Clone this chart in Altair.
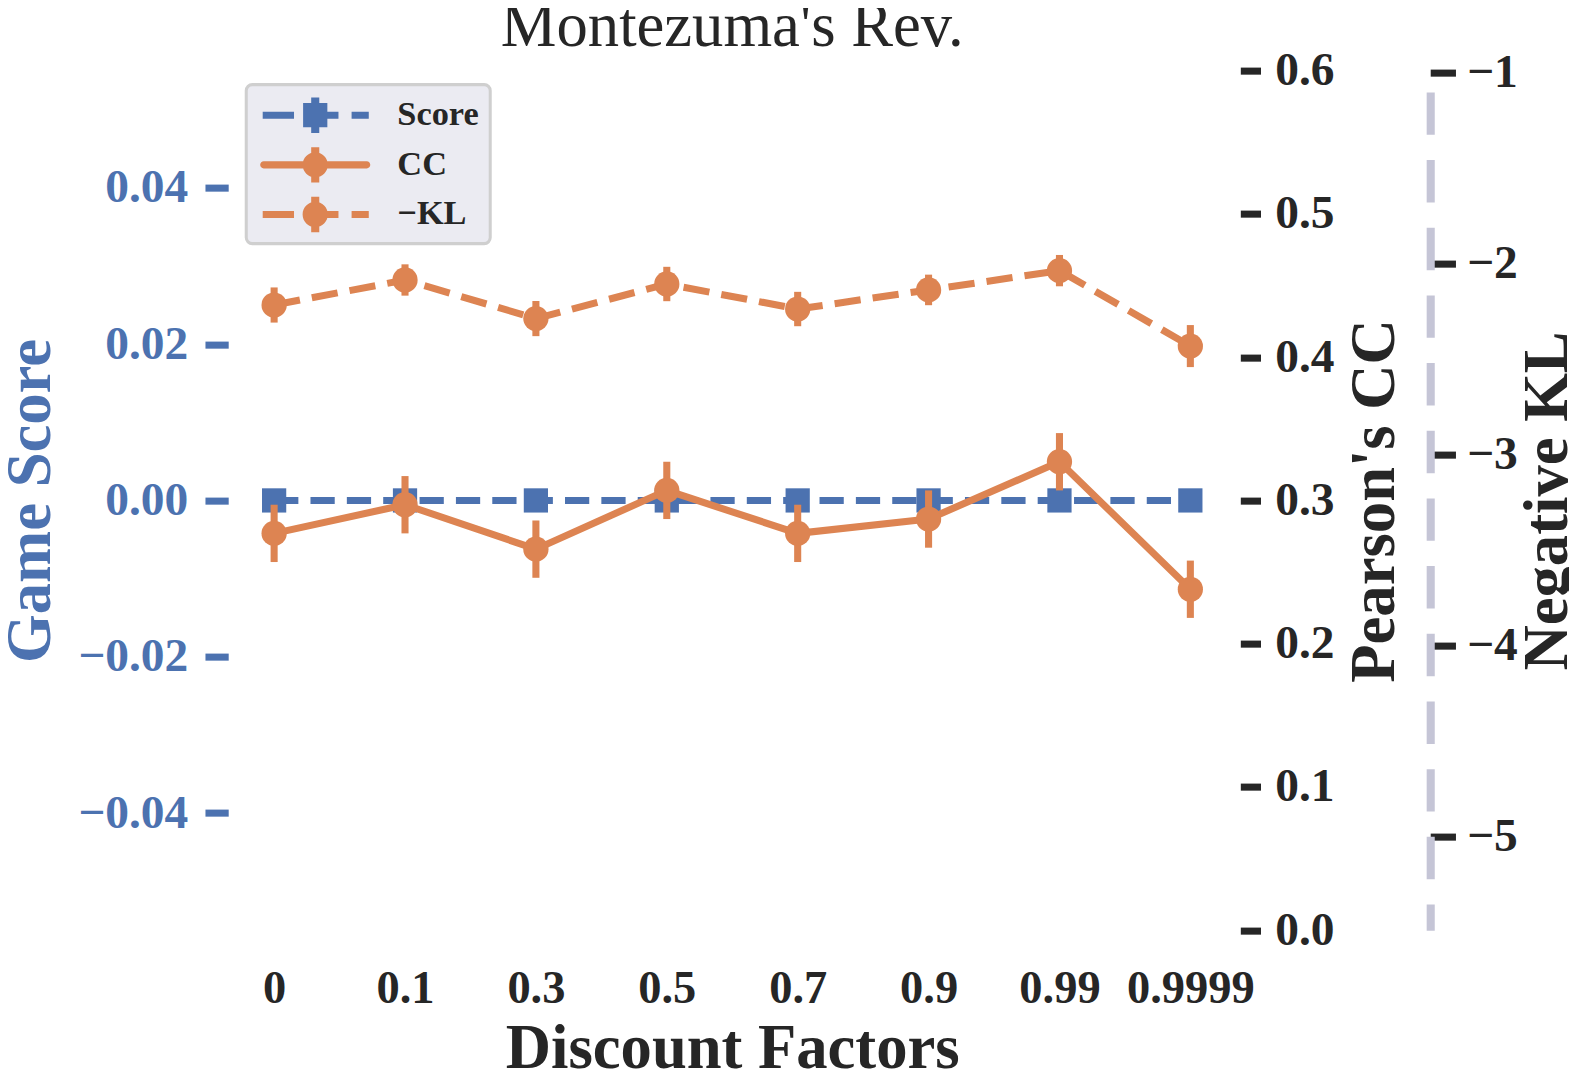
import altair as alt
import pandas as pd

# ---------------- data ----------------
categories = ["0", "0.1", "0.3", "0.5", "0.7", "0.9", "0.99", "0.9999"]
score = [0.0, 0.0, 0.0, 0.0, 0.0, 0.0, 0.0, 0.0]
score_err = [0.0, 0.0, 0.0, 0.0, 0.0, 0.0, 0.0, 0.0]
cc = [0.277, 0.297, 0.266, 0.307, 0.277, 0.287, 0.327, 0.238]
cc_err = [0.020, 0.020, 0.020, 0.020, 0.020, 0.020, 0.020, 0.020]
kl = [-2.217, -2.086, -2.288, -2.107, -2.238, -2.138, -2.037, -2.432]
kl_err = [0.092, 0.082, 0.092, 0.090, 0.090, 0.080, 0.082, 0.110]

series_names = ["Score", "CC", "\u2212KL"]
series_colors = ["#4c72b0", "#dd8452", "#dd8452"]

score_ticks = [-0.04, -0.02, 0.0, 0.02, 0.04]
cc_ticks = [0.0, 0.1, 0.2, 0.3, 0.4, 0.5, 0.6]
kl_ticks = [-5, -4, -3, -2, -1]

df = pd.DataFrame({
    "factor": categories,
    "score": score, "score_lo": [v - e for v, e in zip(score, score_err)],
    "score_hi": [v + e for v, e in zip(score, score_err)],
    "cc": cc, "cc_lo": [v - e for v, e in zip(cc, cc_err)],
    "cc_hi": [v + e for v, e in zip(cc, cc_err)],
    "kl": kl, "kl_lo": [v - e for v, e in zip(kl, kl_err)],
    "kl_hi": [v + e for v, e in zip(kl, kl_err)],
})
legend_df = pd.DataFrame({"series": series_names})

# ---------------- styles ----------------
S = 1.0 / 0.99  # the page is photographed at 0.99 scale


def p(v):
    return round(v * S, 2)


FONT = "Liberation Serif"
TXT = "#262626"
BLUE, ORANGE = series_colors[0], series_colors[1]
LW = p(7)

# legend symbols as custom paths; 1 unit = U px (symbol box = 2U px)
U = 19.0


def _f(v):
    return f"{v / U:.4f}"


def rect(x0, y0, x1, y1):
    return (f"M {_f(x0)} {_f(y0)} L {_f(x1)} {_f(y0)} L {_f(x1)} {_f(y1)} "
            f"L {_f(x0)} {_f(y1)} Z ")


def circ(r):
    return (f"M {_f(-r)} 0 A {_f(r)} {_f(r)} 0 1 1 {_f(r)} 0 "
            f"A {_f(r)} {_f(r)} 0 1 1 {_f(-r)} 0 Z ")


def rline(x0, x1, h):
    return (f"M {_f(x0)} {_f(-h)} L {_f(x1)} {_f(-h)} A {_f(h)} {_f(h)} 0 0 1 {_f(x1)} {_f(h)} "
            f"L {_f(x0)} {_f(h)} A {_f(h)} {_f(h)} 0 0 1 {_f(x0)} {_f(-h)} Z ")


bar = rect(-4, -17.5, 4, 17.5)
dashes = rect(-52, -3.5, -21, 3.5) + rect(0, -3.5, 23, 3.5) + rect(36, -3.5, 53, 3.5)
path_score = dashes + rect(-12, -12, 12, 12) + bar
path_cc = rline(-51, 51, 3.5) + circ(12.5) + bar
path_kl = dashes + circ(12.5) + bar
legend_paths = [path_score, path_cc, path_kl]

X = alt.X(
    "factor:N", sort=categories,
    scale=alt.Scale(type="point", padding=0.32),
    axis=alt.Axis(title="Discount Factors", labelAngle=0, ticks=False, tickSize=0,
                  domain=False, grid=False, labelFont=FONT, labelFontSize=p(46),
                  labelFontWeight="bold", labelColor=TXT, labelPadding=p(35),
                  titleFont=FONT, titleFontSize=p(62), titleFontWeight="bold",
                  titleColor=TXT, titlePadding=p(6)),
)


def series_layers(col, color, domain, axis, shape, size, dash=None):
    scale = alt.Scale(domain=domain, nice=False, zero=False)
    base = alt.Chart(df)
    line_kw = dict(color=color, strokeWidth=LW, strokeJoin="round")
    if dash is not None:
        line_kw["strokeDash"] = [p(d) for d in dash]
    else:
        line_kw["strokeCap"] = "round"
    line = base.mark_line(**line_kw).encode(
        x=X, y=alt.Y(f"{col}:Q", scale=scale, axis=axis))
    err = base.mark_rule(color=color, strokeWidth=LW).encode(
        x=X, y=alt.Y(f"{col}_lo:Q", scale=scale, axis=None), y2=f"{col}_hi:Q")
    pts = base.mark_point(filled=True, opacity=1, color=color, shape=shape,
                          size=round(size * S * S, 1)).encode(
        x=X, y=alt.Y(f"{col}:Q", scale=scale, axis=None))
    return [line, err, pts]


score_axis = alt.Axis(
    title="Game Score", orient="left", values=score_ticks, format=".2f",
    grid=False, domain=False, offset=p(4), tickSize=p(23), tickWidth=p(7),
    tickColor=BLUE, labelColor=BLUE, labelFont=FONT, labelFontSize=p(47),
    labelFontWeight="bold", labelPadding=p(17), titleColor=BLUE, titleFont=FONT,
    titleFontSize=p(62), titleFontWeight="bold", titlePadding=p(15))
cc_axis = alt.Axis(
    title="Pearson's CC", orient="right", values=cc_ticks, format=".1f",
    grid=False, domain=False, offset=p(8), tickSize=p(20), tickWidth=p(7),
    tickColor=TXT, labelColor=TXT, labelFont=FONT, labelFontSize=p(47),
    labelFontWeight="bold", labelPadding=p(14), titleColor=TXT, titleFont=FONT,
    titleFontSize=p(62), titleFontWeight="bold", titlePadding=p(10),
    titleAngle=270, titleBaseline="top")
kl_axis = alt.Axis(
    title="Negative KL", orient="right", values=kl_ticks, format="d",
    grid=False, domain=True, domainColor="#c5c5d6", domainWidth=p(8),
    domainDash=[p(42), p(25)], domainDashOffset=p(16), offset=p(196),
    tickSize=p(25), tickWidth=p(7), tickColor=TXT, labelColor=TXT,
    labelFont=FONT, labelFontSize=p(47), labelFontWeight="bold",
    labelPadding=p(11), titleColor=TXT, titleFont=FONT, titleFontSize=p(62),
    titleFontWeight="bold", titlePadding=p(0), titleAngle=270,
    titleBaseline="top")

layers = []
layers += series_layers("score", BLUE, [-0.055, 0.055], score_axis, "square", 576, dash=[24, 12])
layers += series_layers("cc", ORANGE, [0, 0.6], cc_axis, "circle", 625)
layers += series_layers("kl", ORANGE, [-5.49, -0.99], kl_axis, "circle", 625, dash=[26, 12])

leg = alt.Legend(title=None, orient="top-left", offset=p(14), padding=p(11),
                 strokeColor="#cfcfcf", fillColor="#ebebf2", cornerRadius=p(6),
                 symbolSize=round((2 * U * S) ** 2, 1), symbolStrokeWidth=0,
                 symbolOffset=p(38), symbolOpacity=1, rowPadding=p(11.5),
                 labelOffset=p(62), labelFont=FONT, labelFontSize=p(34),
                 labelFontWeight="bold", labelColor=TXT)
legend_layer = alt.Chart(legend_df).transform_filter("false").mark_point(
    filled=True).encode(
    color=alt.Color("series:N", scale=alt.Scale(domain=series_names, range=series_colors), legend=leg),
    shape=alt.Shape("series:N", scale=alt.Scale(domain=series_names, range=legend_paths), legend=leg),
)
layers.append(legend_layer)

chart = alt.layer(*layers).resolve_scale(
    y="independent"
).properties(
    width=p(990), height=p(851),
    autosize=alt.AutoSizeParams(type="none"),
    padding={"left": p(222), "top": p(62), "right": p(333), "bottom": p(139)},
    background="white",
    title=alt.TitleParams("Montezuma's Rev.", font=FONT, fontSize=p(62),
                          fontWeight="normal", color=TXT, anchor="middle",
                          frame="group", offset=p(-12.5)),
).configure_view(
    fill="#eaeaf2", stroke="transparent"
).configure_legend(
    strokeWidth=p(3)
)

chart.save("out.html", embed_options={"renderer": "svg", "actions": False})
